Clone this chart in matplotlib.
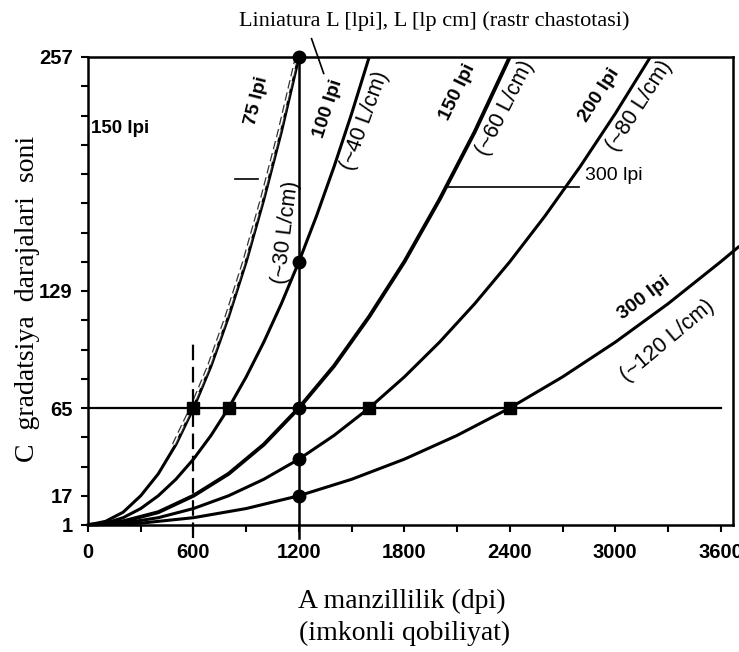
import matplotlib
matplotlib.use("Agg")
import matplotlib.pyplot as plt
import matplotlib.patheffects as pe
import matplotlib.transforms as mtransforms

# Screen ruling curves: number of grey levels C vs. device resolution A (dpi)
dpi_75 = [0, 100, 200, 300, 400, 500, 600, 700, 800, 900, 1000, 1100, 1200]
lev_75 = [1, 3, 8, 17, 29, 45, 65, 88, 115, 145, 179, 216, 257]

dpi_100 = [0, 100, 200, 300, 400, 500, 600, 700, 800, 900, 1000, 1100, 1200,
           1300, 1400, 1500, 1600]
lev_100 = [1, 2, 5, 10, 17, 26, 37, 50, 65, 82, 101, 122, 145, 170, 197, 226, 257]

dpi_150 = [0, 200, 400, 600, 800, 1000, 1200, 1400, 1600, 1800, 2000, 2200, 2400]
lev_150 = [1, 3, 8, 17, 29, 45, 65, 88, 115, 145, 179, 216, 257]

dpi_200 = [0, 200, 400, 600, 800, 1000, 1200, 1400, 1600, 1800, 2000, 2200, 2400,
           2600, 2800, 3000, 3200]
lev_200 = [1, 2, 5, 10, 17, 26, 37, 50, 65, 82, 101, 122, 145, 170, 197, 226, 257]

dpi_300 = [0, 300, 600, 900, 1200, 1500, 1800, 2100, 2400, 2700, 3000, 3300, 3600, 3700]
lev_300 = [1, 2, 5, 10, 17, 26, 37, 50, 65, 82, 101, 122, 145, 153]

# Marked points
circle_dpi = [1200, 1200, 1200, 1200, 1200]
circle_lev = [257, 145, 65, 37, 17]
square_dpi = [600, 800, 1600, 2400]
square_lev = [65, 65, 65, 65]

x_ticks = [0, 600, 1200, 1800, 2400, 3000, 3600]
y_ticks = [1, 17, 65, 129, 257]

NARROW = ["Liberation Sans Narrow", "DejaVu Sans Condensed", "Liberation Sans"]
SERIF = ["Liberation Serif", "DejaVu Serif"]

fig = plt.figure(figsize=(7.39, 6.52), dpi=100)
ax = fig.add_axes([88 / 739, 1 - 525 / 652, (733 - 88) / 739, (525 - 57) / 652])

ax.set_xlim(0, 3670)
ax.set_ylim(1, 257)

lw = 2.2
ax.plot(dpi_75, lev_75, color="black", lw=lw, solid_capstyle="butt")
# hollow dashed companion line alongside the 75 lpi curve
off = mtransforms.offset_copy(ax.transData, fig=fig, x=-2.0, y=0, units="dots")
ax.plot(dpi_75[5:], lev_75[5:], color="white", lw=1.2, ls=(0, (5, 2.5)),
        transform=off,
        path_effects=[pe.Stroke(linewidth=3.0, foreground="#333333"), pe.Normal()])
ax.plot(dpi_100, lev_100, color="black", lw=lw)
ax.plot(dpi_150, lev_150, color="black", lw=2.8)
ax.plot(dpi_200, lev_200, color="black", lw=lw)
ax.plot(dpi_300, lev_300, color="black", lw=lw, clip_on=False)

# guide lines
ax.plot([0, 3600], [65, 65], color="black", lw=1.6)
ax.plot([1200, 1200], [-6, 257], color="black", lw=1.8, clip_on=False)
ax.plot([600, 600], [-6, 100], color="black", lw=1.6, ls=(0, (7, 3)), clip_on=False)

ax.plot(circle_dpi, circle_lev, "o", color="black", ms=9, clip_on=False, zorder=5)
ax.plot(square_dpi, square_lev, "s", color="black", ms=8, zorder=5)

# axes styling
for s in ax.spines.values():
    s.set_linewidth(1.8)
ax.set_xticks(x_ticks)
ax.set_xticks(range(300, 3600, 600), minor=True)
ax.set_yticks(y_ticks)
ax.set_yticks(range(33, 257, 16), minor=True)
ax.tick_params(which="both", direction="out", width=1.5, length=5, pad=8)
ax.tick_params(axis="y", which="both", pad=6)
for lab in ax.get_xticklabels() + ax.get_yticklabels():
    lab.set_fontfamily(NARROW)
    lab.set_fontweight("bold")
    lab.set_fontsize(14.5)

fig.text(434 / 739, 1 - 21 / 652, "Liniatura L [lpi], L [lp cm] (rastr chastotasi)",
         ha="center", va="center", fontsize=16, family=SERIF)
fig.text(402 / 739, 1 - 601 / 652, "A manzillilik (dpi)", ha="center", va="center",
         fontsize=20, family=SERIF)
fig.text(405 / 739, 1 - 633 / 652, "(imkonli qobiliyat)", ha="center", va="center",
         fontsize=20, family=SERIF)
fig.text(28 / 739, 1 - 299 / 652, "C  gradatsiya  darajalari  soni", ha="center",
         va="center", rotation=90, fontsize=20, family=SERIF)

# curve labels
bold = dict(family=NARROW, fontweight="bold", fontsize=14, ha="center", va="center",
            rotation_mode="anchor")
reg = dict(family=NARROW, fontsize=15.5, ha="center", va="center",
           rotation_mode="anchor")
ax.text(958, 233, "75 lpi", rotation=76, **bold)
ax.text(1125, 161, "(~30 L/cm)", rotation=83, **reg)
ax.text(1369, 229, "100 lpi", rotation=72, **bold)
ax.text(1574, 222, "(~40 L/cm)", rotation=70, **reg)
ax.text(2105, 238, "150 lpi", rotation=64, **bold)
ax.text(2373, 229, "(~60 L/cm)", rotation=63, **reg)
ax.text(2909, 236, "200 lpi", rotation=57, **bold)
ax.text(3137, 230, "(~80 L/cm)", rotation=57, **reg)
ax.text(3166, 125, "300 lpi", rotation=37, **bold)
ax.text(3297, 102, "(~120 L/cm)", rotation=40, **reg)

ax.text(17, 218, "150 lpi", ha="left", va="center", family=NARROW,
        fontweight="bold", fontsize=13.5)
ax.text(2830, 192, "300 lpi", ha="left", va="center", family=NARROW, fontsize=14)
ax.plot([2042, 2795], [186, 186], color="black", lw=1.2)
ax.plot([839, 970], [190, 190], color="black", lw=1.2)
ax.plot([1272, 1341], [267, 248], color="black", lw=1.2, clip_on=False)

fig.savefig("out.png", dpi=100)
